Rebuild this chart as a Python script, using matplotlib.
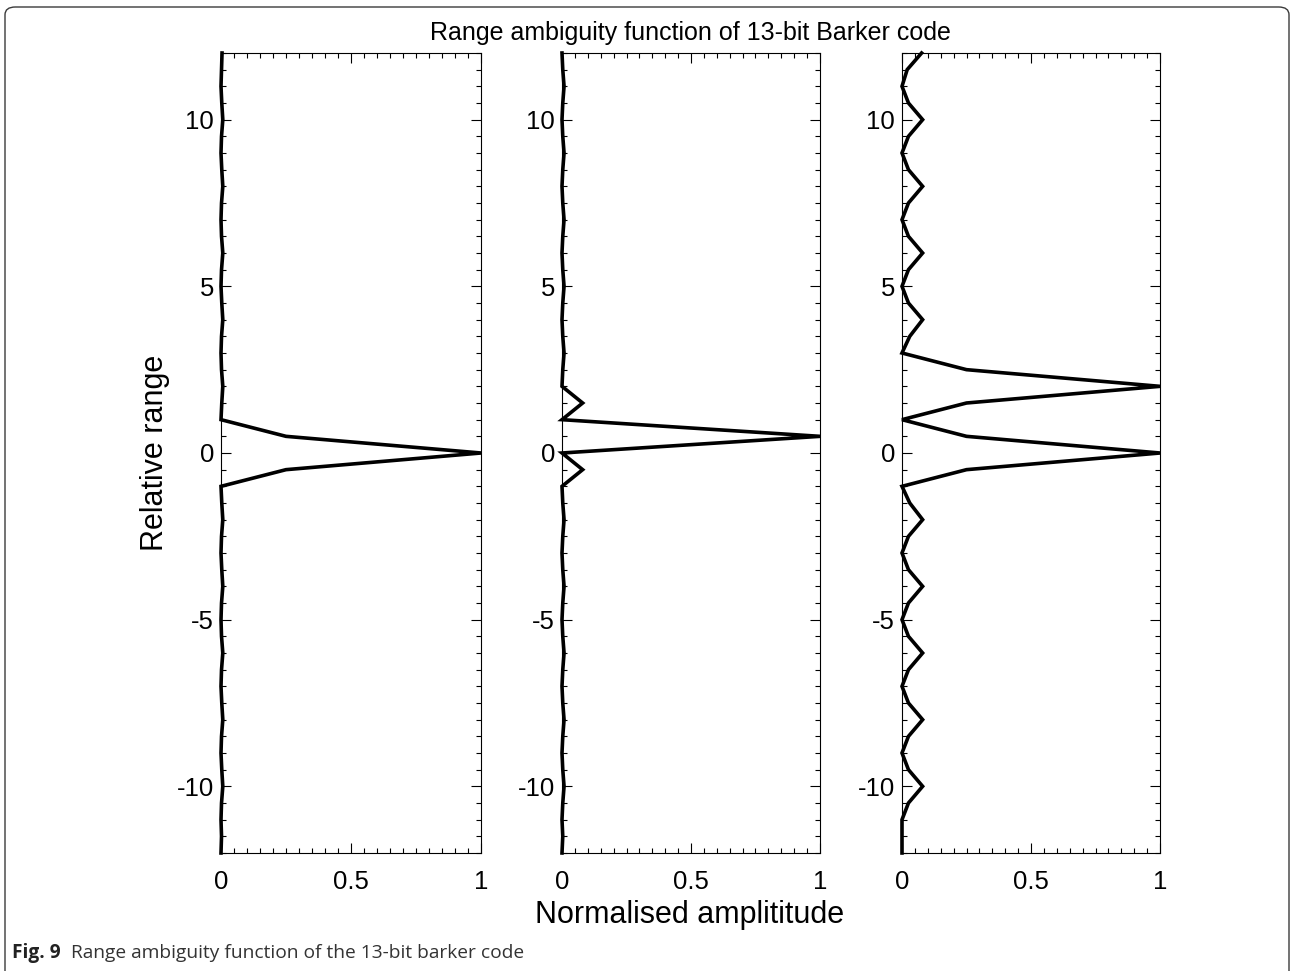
import matplotlib
matplotlib.use("Agg")
import matplotlib.pyplot as plt
from matplotlib.patches import FancyBboxPatch
from matplotlib.ticker import MultipleLocator

# ---- data -------------------------------------------------------------
relative_range = [-12.0, -11.5, -11.0, -10.5, -10.0, -9.5, -9.0, -8.5, -8.0, -7.5,
                  -7.0, -6.5, -6.0, -5.5, -5.0, -4.5, -4.0, -3.5, -3.0, -2.5,
                  -2.0, -1.5, -1.0, -0.5, 0.0, 0.5, 1.0, 1.5, 2.0, 2.5,
                  3.0, 3.5, 4.0, 4.5, 5.0, 5.5, 6.0, 6.5, 7.0, 7.5,
                  8.0, 8.5, 9.0, 9.5, 10.0, 10.5, 11.0, 11.5, 12.0]

amp_panel1 = [0.0, 0.002, 0.0, 0.002, 0.007, 0.003, 0.0, 0.002, 0.007, 0.003,
              0.0, 0.002, 0.007, 0.002, 0.0, 0.002, 0.007, 0.003, 0.0, 0.002,
              0.007, 0.003, 0.0, 0.25, 1.0, 0.25, 0.0, 0.003, 0.007, 0.002,
              0.0, 0.002, 0.007, 0.003, 0.0, 0.002, 0.007, 0.002, 0.0, 0.002,
              0.007, 0.003, 0.0, 0.002, 0.007, 0.003, 0.0, 0.002, 0.004]

amp_panel2 = [0.0, 0.003, 0.0, 0.003, 0.008, 0.003, 0.0, 0.003, 0.008, 0.003,
              0.0, 0.003, 0.008, 0.003, 0.0, 0.003, 0.008, 0.003, 0.0, 0.003,
              0.008, 0.003, 0.0, 0.08, 0.0, 1.0, 0.0, 0.08, 0.0, 0.003,
              0.008, 0.003, 0.0, 0.003, 0.008, 0.003, 0.0, 0.003, 0.008, 0.003,
              0.0, 0.003, 0.008, 0.003, 0.0, 0.003, 0.008, 0.003, 0.0]

amp_panel3 = [0.0, 0.0, 0.0, 0.025, 0.08, 0.025, 0.0, 0.025, 0.08, 0.025,
              0.0, 0.025, 0.08, 0.025, 0.0, 0.025, 0.08, 0.025, 0.0, 0.025,
              0.08, 0.03, 0.0, 0.25, 1.0, 0.25, 0.0, 0.25, 1.0, 0.25,
              0.0, 0.03, 0.08, 0.025, 0.0, 0.025, 0.08, 0.025, 0.0, 0.025,
              0.08, 0.025, 0.0, 0.025, 0.08, 0.025, 0.0, 0.02, 0.076]

panels = [amp_panel1, amp_panel2, amp_panel3]
x_ticks = [0, 0.5, 1]
x_tick_labels = ["0", "0.5", "1"]
y_ticks = [-10, -5, 0, 5, 10]
y_tick_labels = ["-10", "-5", "0", "5", "10"]

title = "Range ambiguity function of 13-bit Barker code"
xlabel = "Normalised amplititude"
ylabel = "Relative range"
caption_bold = "Fig. 9"
caption_text = "Range ambiguity function of the 13-bit barker code"

# ---- figure -----------------------------------------------------------
W, H = 1295, 971
fig = plt.figure(figsize=(W / 100, H / 100), dpi=100)
plt.rcParams["font.family"] = ["Liberation Sans", "DejaVu Sans"]

# page frame (rounded box, bottom edge off the page)
top_frac = 1 - 7 / H
frame = FancyBboxPatch((5 / W, -0.2), (1289 - 5) / W, top_frac + 0.2,
                       boxstyle="round,pad=0,rounding_size=0.008",
                       transform=fig.transFigure, fill=False,
                       edgecolor="#3a3a3a", linewidth=1.0, clip_on=False)
fig.patches.append(frame)

lefts = [221, 562, 902]
widths = [260, 258, 258]
bottom_px, top_px = 853, 53
axes = []
for i, amp in enumerate(panels):
    ax = fig.add_axes([lefts[i] / W, 1 - bottom_px / H,
                       widths[i] / W, (bottom_px - top_px) / H])
    ax.plot(amp, relative_range, color="black", linewidth=2.6,
            solid_joinstyle="miter", clip_on=False, zorder=3)
    ax.set_xlim(0, 1)
    ax.set_ylim(-12, 12)
    ax.set_xticks(x_ticks)
    ax.set_xticklabels(x_tick_labels)
    ax.set_yticks(y_ticks)
    ax.set_yticklabels(y_tick_labels)
    ax.xaxis.set_minor_locator(MultipleLocator(0.05))
    ax.yaxis.set_minor_locator(MultipleLocator(0.5))
    ax.tick_params(which="both", direction="in", top=True, right=True,
                   color="black", width=0.8)
    ax.tick_params(which="major", length=7, labelsize=18.5)
    ax.tick_params(which="minor", length=3.5)
    ax.tick_params(axis="x", which="major", pad=12)
    ax.tick_params(axis="y", which="major", pad=5)
    for sp in ax.spines.values():
        sp.set_linewidth(0.8)
    axes.append(ax)

fig.text(690 / W, 1 - 33 / H, title, ha="center", va="center", fontsize=18)
fig.text(690 / W, 1 - 915 / H, xlabel, ha="center", va="center", fontsize=22)
fig.text(155 / W, 1 - 453 / H, ylabel, ha="center", va="center",
         fontsize=22, rotation=90)

# caption
t1 = fig.text(12 / W, 1 - 953 / H, caption_bold, ha="left", va="center",
              fontsize=13.8, fontweight="bold", family=["Open Sans", "DejaVu Sans"],
              color="#222222")
fig.canvas.draw()
bb = t1.get_window_extent()
fig.text((bb.x1 + 10) / W, 1 - 953 / H, caption_text, ha="left", va="center",
         fontsize=13.8, family=["Open Sans", "DejaVu Sans"], color="#333333")

fig.savefig("out.png", dpi=100)
